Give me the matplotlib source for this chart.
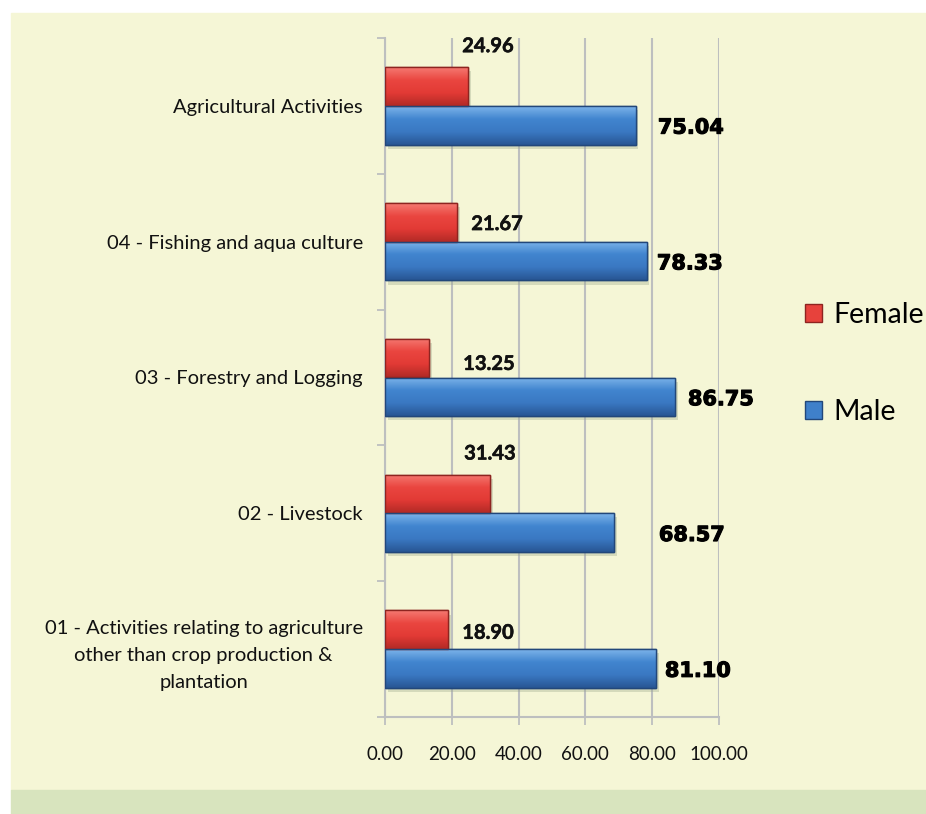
import matplotlib
matplotlib.use("Agg")
import matplotlib.pyplot as plt
import numpy as np
from matplotlib.patches import Rectangle
from matplotlib.colors import LinearSegmentedColormap
import matplotlib.patheffects as pe

# ---------------- data ----------------
categories = [
    "01 - Activities relating to agriculture\nother than crop production &\nplantation",
    "02 - Livestock",
    "03 - Forestry and Logging",
    "04 - Fishing and aqua culture",
    "Agricultural Activities",
]
female = [18.90, 31.43, 13.25, 21.67, 24.96]
male = [81.10, 68.57, 86.75, 78.33, 75.04]
xticks = [0, 20, 40, 60, 80, 100]
xtick_labels = ["0.00", "20.00", "40.00", "60.00", "80.00", "100.00"]
series_names = ["Female", "Male"]

# label placement (as moved in the original chart)
female_label_x = [30.8, 31.4, 31.1, 33.5, 30.8]
female_label_dy = [0.12, 0.44, 0.10, 0.13, 0.44]
male_label_x = [83.8, 82.0, 90.7, 81.4, 81.7]
male_label_dy = [-0.16, -0.16, -0.16, -0.16, -0.16]

# ---------------- style ----------------
CREAM = "#F5F6D6"
GREEN = "#D8E4BE"
GRID = "#BDBFBF"
RED_GRAD = ["#F57A72", "#EA4640", "#E23A35", "#B22A26"]
BLUE_GRAD = ["#7DB4EA", "#4185CF", "#3A78C2", "#285694"]
RED_EDGE = "#8E2420"
BLUE_EDGE = "#22477A"

plt.rcParams["font.family"] = ["Lato", "DejaVu Sans"]

fig = plt.figure(figsize=(9.26, 8.14), dpi=100, facecolor="white")
W, H = 926, 814
fig.patches.append(Rectangle((11 / W, 24 / H), 1 - 11 / W, (790 - 13) / H,
                             transform=fig.transFigure, color=CREAM, zorder=-10))
fig.patches.append(Rectangle((11 / W, 0), 1 - 11 / W, 24 / H,
                             transform=fig.transFigure, color=GREEN, zorder=-10))

ax = fig.add_axes([385 / W, 1 - 717 / H, (719 - 385) / W, (717 - 38) / H])
ax.set_facecolor("none")

y = np.arange(len(categories))
bh = 0.285
cmap_r = LinearSegmentedColormap.from_list("r", RED_GRAD)
cmap_b = LinearSegmentedColormap.from_list("b", BLUE_GRAD)
grad = np.linspace(0, 1, 100).reshape(-1, 1)

shadow = [pe.SimplePatchShadow(offset=(2, -3), shadow_rgbFace="#9aa68a", alpha=0.35), pe.Normal()]

def draw(vals, offs, cmap, edge):
    bars = ax.barh(y + offs, vals, height=bh, color=cmap(0.5), edgecolor=edge,
                   linewidth=1.0, zorder=3, path_effects=shadow)
    for b in bars:
        x0, y0 = b.get_x(), b.get_y()
        w, h = b.get_width(), b.get_height()
        im = ax.imshow(grad, cmap=cmap, aspect="auto", extent=(x0, x0 + w, y0, y0 + h),
                       origin="upper", zorder=3.5, interpolation="bicubic")
        im.set_clip_path(b)
        ax.add_patch(Rectangle((x0, y0), w, h, fill=False, edgecolor=edge,
                               linewidth=1.0, zorder=4))
    return bars

draw(female, bh / 2, cmap_r, RED_EDGE)
draw(male, -bh / 2, cmap_b, BLUE_EDGE)

# labels
for i in range(len(categories)):
    ax.text(female_label_x[i], y[i] + female_label_dy[i], f"{female[i]:.2f}",
            ha="center", va="center", fontsize=14.5, fontweight="bold", color="#111111", zorder=6,
            path_effects=[pe.withStroke(linewidth=0.4, foreground="#111111")])
    ax.text(male_label_x[i], y[i] + male_label_dy[i], f"{male[i]:.2f}",
            ha="left", va="center", fontsize=15, fontweight="bold", color="black",
            family="DejaVu Sans", zorder=6,
            path_effects=[pe.withStroke(linewidth=0.8, foreground="black")])

ax.set_xlim(0, 100)
ax.set_ylim(-0.5, len(categories) - 0.5)
ax.set_xticks(xticks)
ax.set_xticklabels(xtick_labels, fontsize=13.5, color="#111111")
ax.set_yticks(y)
ax.set_yticklabels(categories, fontsize=14.5, color="#111111", multialignment="center",
                   linespacing=1.7)
ax.set_yticks(np.arange(-0.5, len(categories), 1.0), minor=True)
ax.tick_params(axis="y", which="major", length=0, pad=16)
ax.tick_params(axis="y", which="minor", length=6, color=GRID, width=1.3, direction="out")
ax.tick_params(axis="x", which="major", length=6, color=GRID, width=1.3, direction="out", pad=15)
ax.grid(axis="x", color=GRID, linewidth=1.5, zorder=0)
ax.set_axisbelow(True)
for s in ["top", "right"]:
    ax.spines[s].set_visible(False)
for s in ["left", "bottom"]:
    ax.spines[s].set_color(GRID)
    ax.spines[s].set_linewidth(1.5)

# legend
handles = [Rectangle((0, 0), 1, 1, facecolor=cmap_r(0.45), edgecolor=RED_EDGE),
           Rectangle((0, 0), 1, 1, facecolor=cmap_b(0.45), edgecolor=BLUE_EDGE)]
fig.legend(handles, series_names, loc="upper left", bbox_to_anchor=(805 / W, 1 - 302 / H),
           frameon=False, fontsize=20.5, handlelength=0.6, handleheight=0.6,
           handletextpad=0.4, labelspacing=2.5, borderpad=0, borderaxespad=0)

fig.savefig("out.png", dpi=100, facecolor="white")
